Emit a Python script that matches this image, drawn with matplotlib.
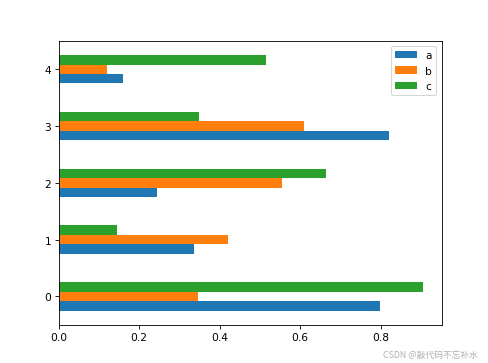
import numpy as np
import pandas as pd
import matplotlib
matplotlib.use('Agg')
import matplotlib.pyplot as plt

# values
a = [0.799, 0.336, 0.245, 0.821, 0.161]
b = [0.346, 0.420, 0.554, 0.609, 0.121]
c = [0.906, 0.144, 0.663, 0.348, 0.516]

df = pd.DataFrame({'a': a, 'b': b, 'c': c})

fig = plt.figure(figsize=(6.4, 4.764), dpi=76.4)
ax = fig.add_subplot(111)
fig.subplots_adjust(left=0.120, right=0.903, top=0.885, bottom=0.105)
df.plot.barh(ax=ax)

fig.text(0.978, 0.012, 'CSDN @敲代码不忘补水', ha='right', va='bottom',
         fontsize=8.3, color='#b0b0b0',
         family=['Noto Sans CJK SC', 'DejaVu Sans'])

fig.savefig('out.png', dpi=76.4)
